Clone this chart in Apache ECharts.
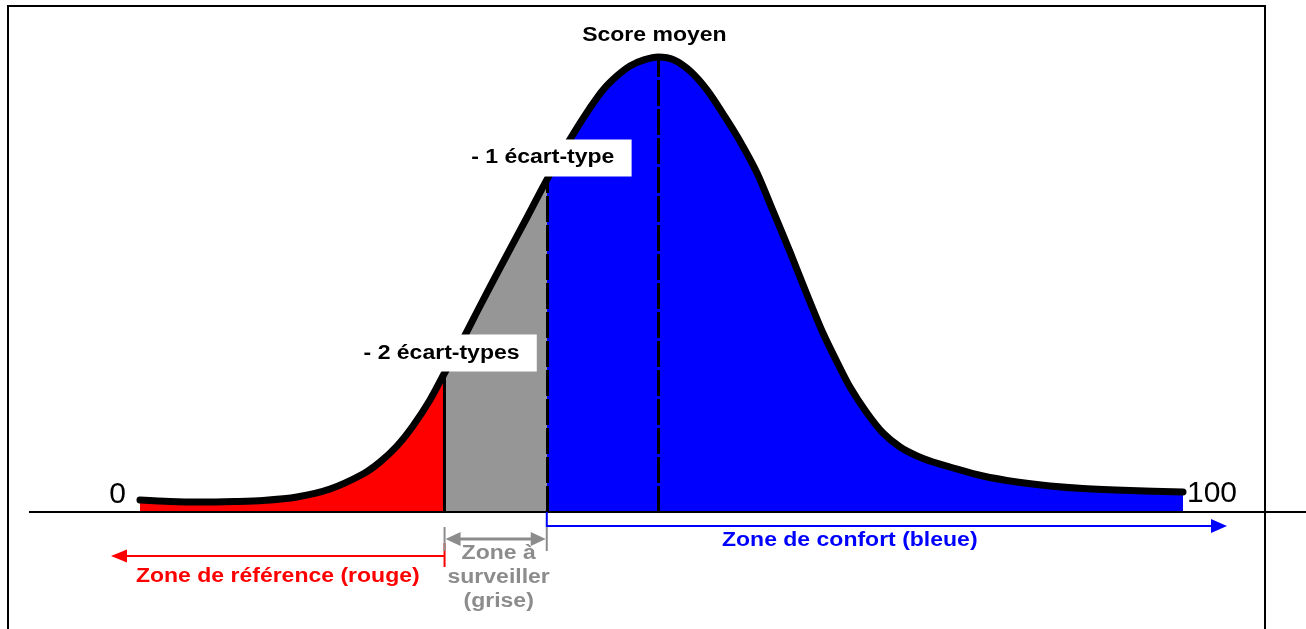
<!DOCTYPE html>
<html><head><meta charset="utf-8">
<script src="https://cdn.jsdelivr.net/npm/echarts@6/dist/echarts.min.js"></script>
<style>html,body{margin:0;padding:0;background:#fff}#c{width:1306px;height:629px}</style>
</head><body><div id="c"></div>
<script>
// Score scale (0..100) and curve height (arbitrary density units)
const scoreX = [0, 2.88, 5.75, 9.11, 11.79, 15.05, 18.22, 21.38, 23.01, 24.64, 26.17, 27.8, 29.2, 30.97, 32.6, 34.52, 36.72, 39.0, 40.46, 41.9, 43.14, 44.39, 45.73, 46.98, 48.32, 49.7, 51.2, 52.73, 54.36, 56.09, 57.62, 59.16, 60.69, 62.32, 63.85, 65.48, 66.83, 68.07, 69.7, 71.24, 72.87, 74.5, 76.03, 77.66, 80.82, 84.08, 87.25, 90.41, 94.92, 100];
const density = [2.64, 2.31, 2.2, 2.31, 2.53, 3.3, 5.06, 8.36, 11.0, 14.52, 18.92, 24.64, 30.58, 38.06, 45.32, 53.69, 63.15, 73.05, 78.99, 84.49, 88.89, 92.85, 95.93, 98.13, 99.45, 100.1, 99.45, 97.03, 92.85, 86.91, 81.19, 74.59, 66.23, 57.21, 48.4, 39.38, 33.0, 27.5, 21.78, 17.38, 14.3, 12.32, 11.0, 9.9, 7.92, 6.6, 5.72, 5.17, 4.73, 4.4];
const meanX = 49.7, sigma1X = 39.0, sigma2X = 29.2;
const endLabels = ['0', '100'];
const markerLabels = ['Score moyen', '- 1 écart-type', '- 2 écart-types'];
const zoneLabels = ['Zone de référence (rouge)', 'Zone à\nsurveiller\n(grise)', 'Zone de confort (bleue)'];
const RED = '#ff0000', GREY = '#969696', GREYTXT = '#8c8c8c', BLUE = '#0000ff';
const FONT = 'Liberation Sans, Arial, sans-serif';
const SMOOTH = 0.3;

const pts = scoreX.map((x, i) => [x, density[i]]);
const yAt = x => density[scoreX.indexOf(x)];

const chart = echarts.init(document.getElementById('c'));
chart.setOption({
  animation: false,
  grid: { left: 140, right: 123, top: 12, bottom: 117 },
  xAxis: { type: 'value', min: 0, max: 100, show: false },
  yAxis: { type: 'value', min: 0, max: 110, show: false },
  visualMap: {
    type: 'piecewise', show: false, dimension: 0, seriesIndex: 0,
    pieces: [
      { min: 0, max: sigma2X, color: RED },
      { min: sigma2X, max: sigma1X, color: GREY },
      { min: sigma1X, max: 100, color: BLUE }
    ]
  },
  series: [
    {
      type: 'line', data: pts, smooth: SMOOTH, symbol: 'none', z: 2,
      lineStyle: { width: 0, opacity: 0 },
      areaStyle: { opacity: 1 },
      markLine: {
        silent: true, symbol: 'none', label: { show: false },
        lineStyle: { color: '#000', width: 3, type: [26, 3] },
        data: [
          [{ coord: [sigma2X, 0], lineStyle: { type: 'solid', color: '#000', width: 3 } }, { coord: [sigma2X, yAt(sigma2X)] }],
          [{ coord: [sigma1X, 0] }, { coord: [sigma1X, yAt(sigma1X)] }],
          [{ coord: [meanX, 0] }, { coord: [meanX, yAt(meanX)] }]
        ]
      }
    },
    {
      type: 'line', data: pts, smooth: SMOOTH, symbol: 'none', z: 4,
      lineStyle: { width: 7, color: '#000', cap: 'round', join: 'round' }
    }
  ]
});

const P = (x, y) => chart.convertToPixel({ gridIndex: 0 }, [x, y]);
const [x0, yB] = P(0, 0);
const [x100] = P(100, 0);
const [xs2, ys2] = P(sigma2X, yAt(sigma2X));
const [xs1, ys1] = P(sigma1X, yAt(sigma1X));
const [xm, ym] = P(meanX, yAt(meanX));

const boldTxt = (text, x, y, fill, extra) => ({
  type: 'text', x: x, y: y, scaleX: 1.15, z: 100,
  style: Object.assign({ text: text, font: 'bold 20px ' + FONT, fill: fill, align: 'center', verticalAlign: 'middle' }, extra || {})
});
const line = (x1, y1, x2, y2, color, w) => ({ type: 'line', z: 90, shape: { x1, y1, x2, y2 }, style: { stroke: color, lineWidth: w } });
const tri = (points, color) => ({ type: 'polygon', z: 90, shape: { points }, style: { fill: color } });

const redY = yB + 44, greyY = yB + 27, blueY = yB + 14;
chart.setOption({
  graphic: [
    { type: 'rect', z: 95, shape: { x: 8, y: 6, width: 1257, height: 700 }, style: { fill: 'none', stroke: '#000', lineWidth: 2 } },
    line(29, yB, 1306, yB, '#000', 2),
    { type: 'text', z: 100, x: x0 - 14, y: yB - 17, style: { text: endLabels[0], font: '30px ' + FONT, fill: '#000', align: 'right', verticalAlign: 'middle' } },
    { type: 'text', z: 100, x: x100 + 4, y: yB - 18, style: { text: endLabels[1], font: '30px ' + FONT, fill: '#000', align: 'left', verticalAlign: 'middle' } },
    boldTxt(markerLabels[0], xm - 4, ym - 22, '#000'),
    boldTxt(markerLabels[1], xs1 - 4, ys1 - 22, '#000', { backgroundColor: '#fff', padding: [8, 15, 8, 15], lineHeight: 21 }),
    boldTxt(markerLabels[2], xs2 - 3, ys2 - 20, '#000', { backgroundColor: '#fff', padding: [8, 15, 8, 15], lineHeight: 21 }),
    // red zone arrow
    line(xs2, yB + 31, xs2, yB + 55, RED, 2),
    line(x0 - 14, redY, xs2, redY, RED, 2),
    tri([[x0 - 29, redY], [x0 - 13, redY - 6.5], [x0 - 13, redY + 6.5]], RED),
    boldTxt(zoneLabels[0], (x0 - 29 + xs2) / 2, yB + 64, RED),
    // grey zone double arrow
    line(xs2, yB + 15, xs2, yB + 39, GREYTXT, 2),
    line(xs1, yB + 15, xs1, yB + 39, GREYTXT, 2),
    line(xs2 + 12, greyY, xs1 - 12, greyY, GREYTXT, 3),
    tri([[xs2 + 1, greyY], [xs2 + 16, greyY - 7], [xs2 + 16, greyY + 7]], GREYTXT),
    tri([[xs1 - 1, greyY], [xs1 - 16, greyY - 7], [xs1 - 16, greyY + 7]], GREYTXT),
    boldTxt(zoneLabels[1], (xs2 + xs1) / 2 + 3, yB + 65, GREYTXT, { lineHeight: 24 }),
    // blue zone arrow
    { type: 'polyline', z: 90, shape: { points: [[xs1, yB], [xs1, blueY], [x100 + 30, blueY]] }, style: { stroke: BLUE, lineWidth: 2, fill: 'none' } },
    tri([[x100 + 44, blueY], [x100 + 28, blueY - 7], [x100 + 28, blueY + 7]], BLUE),
    boldTxt(zoneLabels[2], xs1 + 303, yB + 28, BLUE)
  ]
});
</script>
</body></html>
